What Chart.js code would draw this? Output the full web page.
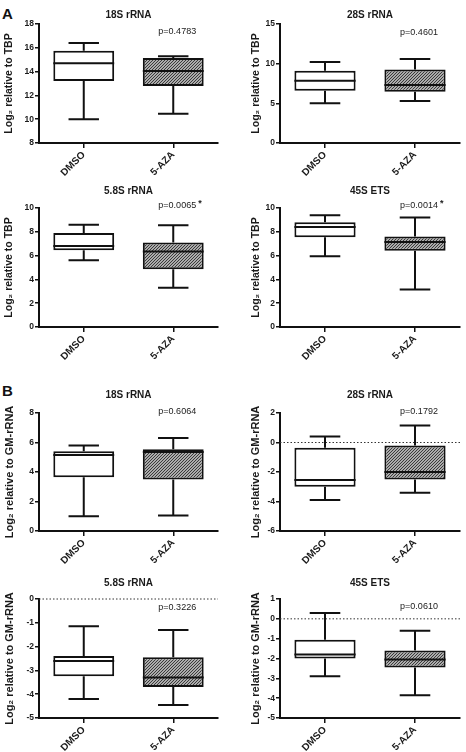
<!DOCTYPE html>
<html lang="en">
<head>
<meta charset="UTF-8">
<title>rRNA levels DMSO vs 5-AZA</title>
<script src="https://cdn.jsdelivr.net/npm/chart.js"></script>
<style>
  body { margin: 0; background: #fff; width: 466px; height: 752px; overflow: hidden; position: relative; font-family: 'Liberation Sans', Arial, sans-serif; }
  .panel { position: absolute; }
  .tag { position: absolute; font-weight: bold; font-size: 15px; color: #111; line-height: 1; }
</style>
</head>
<body>
<div class="tag" style="left:2px;top:6px">A</div>
<div class="tag" style="left:2px;top:383px">B</div>
<div id="wrap"></div>
<script>
const groups = ['DMSO', '5-AZA'];
const titles = ['18S rRNA', '28S rRNA', '5.8S rRNA', '45S ETS', '18S rRNA', '28S rRNA', '5.8S rRNA', '45S ETS'];
const pLabels = ['p=0.4783', 'p=0.4601', 'p=0.0065', 'p=0.0014', 'p=0.6064', 'p=0.1792', 'p=0.3226', 'p=0.0610'];
const starred = [false, false, true, true, false, false, false, false];
const yTitles = ['Log₂ relative to TBP', 'Log₂ relative to TBP', 'Log₂ relative to TBP', 'Log₂ relative to TBP',
  'Log₂ relative to GM-rRNA', 'Log₂ relative to GM-rRNA', 'Log₂ relative to GM-rRNA', 'Log₂ relative to GM-rRNA'];
const yMin = [8, 0, 0, 0, 0, -6, -5, -5];
const yMax = [18, 15, 10, 10, 8, 2, 0, 1];
const yStep = [2, 5, 2, 2, 2, 2, 1, 1];
const zeroLine = [false, false, false, false, false, true, true, true];

// five numbers per panel: min, q1, median, q3, max
const dmsoStats = [
  [10.0, 13.2, 14.7, 15.75, 16.4],
  [5.0, 6.6, 7.85, 9.1, 10.2],
  [5.6, 6.45, 6.8, 7.9, 8.6],
  [5.95, 7.55, 8.4, 8.8, 9.4],
  [1.0, 3.65, 5.15, 5.4, 5.8],
  [-3.9, -3.0, -2.55, -0.35, 0.4],
  [-4.2, -3.25, -2.6, -2.4, -1.15],
  [-2.9, -2.0, -1.8, -1.05, 0.3]
];
const azaStats = [
  [10.45, 12.8, 14.05, 15.15, 15.3],
  [5.3, 6.45, 7.3, 9.25, 10.6],
  [3.3, 4.85, 6.35, 7.1, 8.55],
  [3.15, 6.4, 7.15, 7.6, 9.2],
  [1.05, 3.5, 5.35, 5.55, 6.3],
  [-3.4, -2.5, -2.0, -0.2, 1.15],
  [-4.45, -3.7, -3.3, -2.45, -1.3],
  [-3.85, -2.45, -2.05, -1.6, -0.6]
];

// layout of the rows: title centre, plot top, plot bottom
const rowTitleY = [15, 191, 395, 583];
const rowTop = [24, 208, 413, 599];
const rowBottom = [143, 327, 531, 718];
const pOffset = [8, 9, -2, -2, -1, -1, 9, 8];

const INK = '#111';
const FONT = "'Liberation Sans', Arial, sans-serif";

function makeHatch() {
  const c = document.createElement('canvas');
  c.width = 3; c.height = 3;
  const g = c.getContext('2d');
  g.fillStyle = '#ababab';
  g.fillRect(0, 0, 3, 3);
  g.fillStyle = '#3a3a3a';
  g.fillRect(2, 0, 1, 1);
  g.fillRect(1, 1, 1, 1);
  g.fillRect(0, 2, 1, 1);
  return g.createPattern(c, 'repeat');
}
const hatch = makeHatch();

const boxPlugin = {
  id: 'boxes',
  afterDatasetsDraw(chart, args, o) {
    const { ctx, chartArea: a, scales: { x, y } } = chart;
    const meta = chart.getDatasetMeta(0);
    ctx.save();

    if (o.zero) {
      const yz = y.getPixelForValue(0);
      ctx.setLineDash([1.5, 2]);
      ctx.lineWidth = 1;
      ctx.strokeStyle = '#333';
      ctx.beginPath();
      ctx.moveTo(a.left, yz); ctx.lineTo(a.right, yz);
      ctx.stroke();
      ctx.setLineDash([]);
    }

    ctx.strokeStyle = INK;
    ctx.lineWidth = 2;
    meta.data.forEach((bar, k) => {
      const s = o.stats[k];
      const cx = bar.x, hw = bar.width / 2, cw = bar.width / 4;
      const pMin = y.getPixelForValue(s[0]), pQ1 = y.getPixelForValue(s[1]);
      const pMed = y.getPixelForValue(s[2]), pQ3 = y.getPixelForValue(s[3]);
      const pMax = y.getPixelForValue(s[4]);
      ctx.beginPath();
      ctx.moveTo(cx, pQ3); ctx.lineTo(cx, pMax);
      ctx.moveTo(cx - cw, pMax); ctx.lineTo(cx + cw, pMax);
      ctx.moveTo(cx, pQ1); ctx.lineTo(cx, pMin);
      ctx.moveTo(cx - cw, pMin); ctx.lineTo(cx + cw, pMin);
      ctx.moveTo(cx - hw, pMed); ctx.lineTo(cx + hw, pMed);
      ctx.stroke();
    });

    // panel title centred on the plot
    ctx.fillStyle = '#1a1a1a';
    ctx.textAlign = 'center';
    ctx.textBaseline = 'middle';
    ctx.font = 'bold 10px ' + FONT;
    ctx.fillText(o.title, (a.left + a.right) / 2, a.top - o.titleGap);

    // p value over the 5-AZA box
    ctx.font = '9px ' + FONT;
    const px = x.getPixelForValue(1) + 4, py = a.top + o.pOff;
    ctx.fillText(o.p, px, py);
    if (o.star) {
      const w = ctx.measureText(o.p).width;
      ctx.font = 'bold 9px ' + FONT;
      ctx.textAlign = 'left';
      ctx.fillText('*', px + w / 2 + 2, py - 2);
    }
    ctx.restore();
  }
};

const wrap = document.getElementById('wrap');
for (let i = 0; i < 8; i++) {
  const col = i % 2, row = i >> 1;
  const left = col ? 241 : 0, width = col ? 225 : 233;
  const top = rowTop[row] - 24;
  const height = rowBottom[row] - top + 34;

  const div = document.createElement('div');
  div.className = 'panel';
  div.style.cssText = `left:${left}px;top:${top}px;width:${width}px;height:${height}px`;
  const cv = document.createElement('canvas');
  div.appendChild(cv);
  wrap.appendChild(div);

  const stats = [dmsoStats[i], azaStats[i]];
  new Chart(cv, {
    type: 'bar',
    data: {
      labels: groups,
      datasets: [{
        data: stats.map(s => [s[1], s[3]]),
        backgroundColor: ['#ffffff', hatch],
        borderColor: INK,
        borderWidth: 2,
        borderSkipped: false,
        barPercentage: 0.68,
        categoryPercentage: 1
      }]
    },
    options: {
      responsive: true,
      maintainAspectRatio: false,
      animation: false,
      events: [],
      layout: { padding: { top: 24, right: col ? 6 : 15, left: 0, bottom: 0 } },
      plugins: {
        legend: { display: false },
        tooltip: { enabled: false },
        boxes: {
          stats: stats,
          title: titles[i],
          titleGap: rowTop[row] - rowTitleY[row],
          p: pLabels[i],
          star: starred[i],
          pOff: pOffset[i],
          zero: zeroLine[i]
        }
      },
      scales: {
        x: {
          offset: true,
          grid: { offset: false, drawOnChartArea: false, color: INK, lineWidth: 1.5, tickLength: 5 },
          border: { color: INK, width: 2 },
          ticks: { color: '#1a1a1a', font: { family: FONT, size: 10, weight: 'bold' }, minRotation: 45, maxRotation: 45, padding: 1 },
          afterFit: s => { s.height = 34; }
        },
        y: {
          min: yMin[i],
          max: yMax[i],
          ticks: { stepSize: yStep[i], color: '#1a1a1a', font: { family: FONT, size: 8.5, weight: 'bold' }, padding: 1 },
          grid: { drawOnChartArea: false, color: INK, lineWidth: 1.5, tickLength: 4 },
          border: { color: INK, width: 2 },
          title: {
            display: true,
            text: yTitles[i],
            color: '#1a1a1a',
            font: { family: FONT, size: row < 2 ? 10.5 : 11, weight: 'bold' },
            padding: { top: col ? 8.5 : 3, bottom: 0 }
          },
          afterFit: s => { s.width = 39; }
        }
      }
    },
    plugins: [boxPlugin]
  });
}
</script>
</body>
</html>
